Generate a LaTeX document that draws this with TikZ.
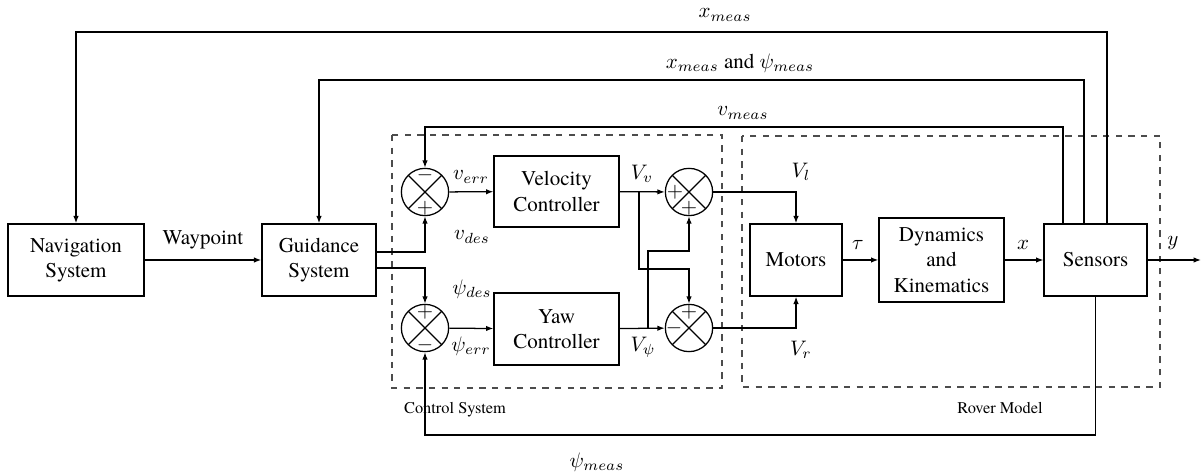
\documentclass[tikz,border=0pt]{standalone}
\usepackage{fontspec}
\IfFontExistsTF{texgyretermes-regular.otf}
  {\setmainfont{texgyretermes}[Extension=.otf,UprightFont=*-regular,BoldFont=*-bold,ItalicFont=*-italic,BoldItalicFont=*-bolditalic]}
  {\setmainfont{Liberation Serif}}
\usetikzlibrary{arrows.meta,calc}
\begin{document}
\begin{tikzpicture}[x=0.476pt,y=-0.476pt,
  line width=0.6pt,
  arr/.style={-{Latex[length=3.5pt,width=2.6pt]}},
  blk/.style={draw,rectangle,align=center,inner sep=1pt,font=\rmfamily\fontsize{10}{12}\selectfont},
  sumnode/.style={draw,circle,minimum size=22.5pt,inner sep=0pt,
    path picture={\draw[line width=0.6pt] (path picture bounding box.north west) -- (path picture bounding box.south east)
      (path picture bounding box.north east) -- (path picture bounding box.south west);}},
  sgn/.style={inner sep=0pt,font=\fontsize{10}{12}\selectfont},
  lbl/.style={inner sep=1pt,font=\rmfamily\fontsize{10}{12}\selectfont},
  dashbox/.style={draw=black!70,dashed,line width=0.5pt},
  grouplabel/.style={inner sep=0pt,font=\rmfamily\fontsize{7.8}{9}\selectfont}]
\useasboundingbox (0,0) rectangle (1202,475);

% blocks
\node[blk,minimum width=64.7pt,minimum height=34.3pt] (nav) at (76,260) {Navigation\\System};
\node[blk,minimum width=54.3pt,minimum height=34.3pt] (guid) at (319,260) {Guidance\\System};
\node[blk,minimum width=59.5pt,minimum height=33.8pt] (vel) at (556.5,191.5) {Velocity\\Controller};
\node[blk,minimum width=59.5pt,minimum height=34.3pt] (yaw) at (556.5,329) {Yaw\\Controller};
\node[blk,minimum width=43.8pt,minimum height=34.3pt] (mot) at (796,260) {Motors};
\node[blk,minimum width=59.5pt,minimum height=40pt] (dyn) at (941.5,260) {Dynamics\\and\\Kinematics};
\node[blk,minimum width=49pt,minimum height=34.3pt] (sen) at (1095.5,260) {Sensors};

% summing junctions
\node[sumnode] (s1) at (425,192) {};
\node[sumnode] (s2) at (425,328) {};
\node[sumnode] (s3) at (689,192) {};
\node[sumnode] (s4) at (689,328) {};
\node[sgn] (s1a) at ($(s1)+(0,-17)$) {$-$};
\node[sgn] (s1b) at ($(s1)+(0,16)$) {$+$};
\node[sgn] (s2a) at ($(s2)+(0,-16)$) {$+$};
\node[sgn] (s2b) at ($(s2)+(0,17)$) {$-$};
\node[sgn] (s3a) at ($(s3)+(-14,0)$) {$+$};
\node[sgn] (s3b) at ($(s3)+(0,16)$) {$+$};
\node[sgn] (s4a) at ($(s4)+(0,-16)$) {$+$};
\node[sgn] (s4b) at ($(s4)+(-15,0)$) {$-$};

% dashed groups
\draw[dashbox] (392,135) rectangle (722,388);
\draw[dashbox] (742,136) rectangle (1160,387);
\node[grouplabel] (csl) at (455,410) {Control System};
\node[grouplabel] (rml) at (1000,408) {Rover Model};

% forward path
\draw[arr] (nav) -- (guid);
\node[lbl] (wpl) at (203,240) {Waypoint};
\draw[arr] ($(guid.east)+(0,-8)$) -| (s1.south);
\draw[arr] ($(guid.east)+(0,8)$) -| (s2.north);
\node[lbl] (vdes) at (472,237) {$v_{des}$};
\node[lbl] (pdes) at (472,289) {$\psi_{des}$};
\draw[arr] (s1) -- (vel);
\draw[arr] (s2) -- (yaw);
\node[lbl] (verr) at (471,177) {$v_{err}$};
\node[lbl] (perr) at (471,346) {$\psi_{err}$};
\draw[arr] (vel) -- (s3);
\draw[arr] (yaw) -- (s4);
\node[lbl] (vv) at (642,174) {$V_v$};
\node[lbl] (vp) at (643,347) {$V_\psi$};
\coordinate (b1) at (639,192);
\coordinate (b1d) at (639,269);
\draw[arr] (b1) -- (b1d) -| (s4.north);
\coordinate (b2) at (648,328);
\coordinate (b2u) at (648,251);
\draw[arr] (b2) -- (b2u) -| (s3.south);
\draw[arr] (s3.east) -| (mot.north);
\draw[arr] (s4.east) -| (mot.south);
\node[lbl] (vl) at (801,172) {$V_l$};
\node[lbl] (vr) at (801,350) {$V_r$};
\draw[arr] (mot) -- (dyn);
\node[lbl] (tau) at (858,245) {$\tau$};
\draw[arr] (dyn) -- (sen);
\node[lbl] (xl) at (1023,245) {$x$};
\coordinate (out) at (1201,260);
\draw[arr] (sen) -- (out);
\node[lbl] (yl) at (1173,243) {$y$};

% feedback paths
\coordinate (yv) at (0,127);
\coordinate (yx) at (0,80);
\coordinate (yX) at (0,32);
\coordinate (yp) at (0,435);
\coordinate (f1) at ($(sen.north)+(-32.5,0)$);
\coordinate (f2) at ($(sen.north)+(-11.5,0)$);
\coordinate (f3) at ($(sen.north)+(11.5,0)$);
\draw[arr] (f1) -- (f1 |- yv) -| (s1.north);
\draw[arr] (f2) -- (f2 |- yx) -| (guid.north);
\draw[arr] (f3) -- (f3 |- yX) -| (nav.north);
\draw[arr] (sen.south) -- (sen.south |- yp) -| (s2.south);
\node[lbl] (lvm) at (743,113) {$v_{meas}$};
\node[lbl] (lxp) at (740,63) {$x_{meas}$ and $\psi_{meas}$};
\node[lbl] (lxm) at (725,15) {$x_{meas}$};
\node[lbl] (lpm) at (597,462) {$\psi_{meas}$};
\end{tikzpicture}
\end{document}
